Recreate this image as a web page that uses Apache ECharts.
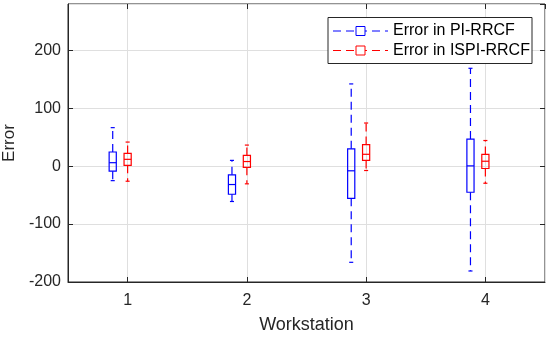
<!DOCTYPE html>
<html><head><meta charset="utf-8">
<script src="https://cdn.jsdelivr.net/npm/echarts@6/dist/echarts.min.js"></script>
<style>html,body{margin:0;padding:0;background:#fff}#c{width:550px;height:337px}</style>
</head><body><div id="c"></div>
<script>
const categories = ['1', '2', '3', '4'];
const yMinVal = -200, yMaxVal = 280, yStep = 100;

// Error in PI-RRCF (blue)
const piMin = [-25, -61, -166, -181];
const piQ1  = [-8.6, -48.5, -55.5, -45];
const piMed = [6, -31.7, -8, 0.5];
const piQ3  = [24.5, -15, 30, 46.8];
const piMax = [66.5, 10, 142, 169];

// Error in ISPI-RRCF (red)
const ispiMin = [-26, -30.5, -7.5, -29.5];
const ispiQ1  = [1.5, -2, 9.9, -4];
const ispiMed = [11.8, 8, 20.5, 8.5];
const ispiQ3  = [22, 18.5, 37.3, 20.3];
const ispiMax = [41.6, 36.4, 74.5, 44.3];

const seriesNames = ['Error in PI-RRCF', 'Error in ISPI-RRCF'];
const colors = ['#0000ff', '#ff0000'];

const FONT = '"Liberation Sans", Arial, Helvetica, sans-serif';
const AX = '#262626';

function boxSeries(name, color, offset, mins, q1s, meds, q3s, maxs) {
  const data = categories.map((c, i) => [i + 1, mins[i], q1s[i], meds[i], q3s[i], maxs[i]]);
  return {
    type: 'custom', name: name, data: data,
    encode: { x: 0, y: [1, 2, 3, 4, 5] },
    clip: false,
    renderItem: function (params, api) {
      const xv = api.value(0);
      const unit = api.size([1, 0])[0];
      const cx = api.coord([xv, 0])[0] + offset * unit;
      const y = k => api.coord([xv, api.value(k)])[1];
      const yMin = y(1), yQ1 = y(2), yMed = y(3), yQ3 = y(4), yMax = y(5);
      const hw = 0.03 * unit, cw = 0.017 * unit;
      const solid = { stroke: color, lineWidth: 1.2 };
      const dashed = { stroke: color, lineWidth: 1.2, lineDash: [8, 5] };
      return {
        type: 'group', children: [
          { type: 'line', shape: { x1: cx, y1: yQ3, x2: cx, y2: yMax }, style: dashed },
          { type: 'line', shape: { x1: cx, y1: yQ1, x2: cx, y2: yMin }, style: dashed },
          { type: 'line', shape: { x1: cx - cw, y1: yMax, x2: cx + cw, y2: yMax }, style: solid },
          { type: 'line', shape: { x1: cx - cw, y1: yMin, x2: cx + cw, y2: yMin }, style: solid },
          { type: 'rect', shape: { x: cx - hw, y: yQ3, width: 2 * hw, height: yQ1 - yQ3 }, style: { stroke: color, fill: null, lineWidth: 1.2 } },
          { type: 'line', shape: { x1: cx - hw, y1: yMed, x2: cx + hw, y2: yMed }, style: solid }
        ]
      };
    }
  };
}

const chart = echarts.init(document.getElementById('c'), null, { renderer: 'canvas' });

const legendX = 328, legendY = 17.5, legendW = 204, legendH = 46;
const rowY = [31, 50.5];
const legendGraphics = [
  { type: 'rect', shape: { x: legendX, y: legendY, width: legendW, height: legendH }, style: { fill: '#fff', stroke: AX, lineWidth: 1 }, z: 100 }
];
seriesNames.forEach((n, k) => {
  legendGraphics.push(
    { type: 'line', shape: { x1: 333, y1: rowY[k], x2: 388, y2: rowY[k] }, style: { stroke: colors[k], lineWidth: 1, lineDash: [8, 5] }, z: 101 },
    { type: 'rect', shape: { x: 356, y: rowY[k] - 4.5, width: 9, height: 9 }, style: { stroke: colors[k], fill: '#fff', lineWidth: 1 }, z: 102 },
    { type: 'text', x: 393, y: rowY[k], style: { text: n, font: '16px ' + FONT, fill: '#000', verticalAlign: 'middle', align: 'left' }, z: 102 }
  );
});

const xLabel = v => (Number.isInteger(v) && v >= 1 && v <= categories.length) ? categories[v - 1] : '';

chart.setOption({
  animation: false,
  backgroundColor: '#fff',
  grid: { left: 68, right: 5, top: 4, bottom: 55, outerBoundsMode: 'none', containLabel: false,
          show: true, borderColor: AX, borderWidth: 1, backgroundColor: 'transparent' },
  xAxis: [{
    type: 'value', min: 0.5, max: categories.length + 0.5, minInterval: 1, maxInterval: 1,
    name: 'Workstation', nameLocation: 'middle', nameGap: 34,
    nameTextStyle: { fontFamily: FONT, fontSize: 18, color: AX },
    axisLine: { onZero: false, lineStyle: { color: AX } },
    axisTick: { inside: true, length: 5, lineStyle: { color: AX } },
    axisLabel: { fontFamily: FONT, fontSize: 16, color: AX, margin: 11, showMinLabel: false, showMaxLabel: false, formatter: xLabel },
    splitLine: { show: true, lineStyle: { color: '#dfdfdf' } }
  }, {
    type: 'value', min: 0.5, max: categories.length + 0.5, minInterval: 1, maxInterval: 1, position: 'top',
    axisLine: { show: false, onZero: false }, axisLabel: { show: false }, splitLine: { show: false },
    axisTick: { inside: true, length: 5, lineStyle: { color: AX } }
  }],
  yAxis: [{
    type: 'value', min: yMinVal, max: yMaxVal, interval: yStep,
    name: 'Error', nameLocation: 'middle', nameGap: 49,
    nameTextStyle: { fontFamily: FONT, fontSize: 17, color: AX },
    axisLine: { show: true, onZero: false, lineStyle: { color: AX } },
    axisTick: { show: true, inside: true, length: 5, lineStyle: { color: AX } },
    axisLabel: { fontFamily: FONT, fontSize: 16, color: AX, margin: 7, showMaxLabel: false },
    splitLine: { show: true, lineStyle: { color: '#dfdfdf' } }
  }, {
    type: 'value', min: yMinVal, max: yMaxVal, interval: yStep, position: 'right',
    axisLine: { show: false, onZero: false }, axisLabel: { show: false }, splitLine: { show: false },
    axisTick: { show: true, inside: true, length: 5, lineStyle: { color: AX } }
  }],
  series: [
    boxSeries(seriesNames[0], colors[0], -0.125, piMin, piQ1, piMed, piQ3, piMax),
    boxSeries(seriesNames[1], colors[1], 0, ispiMin, ispiQ1, ispiMed, ispiQ3, ispiMax)
  ],
  graphic: legendGraphics
});
</script>
</body></html>
